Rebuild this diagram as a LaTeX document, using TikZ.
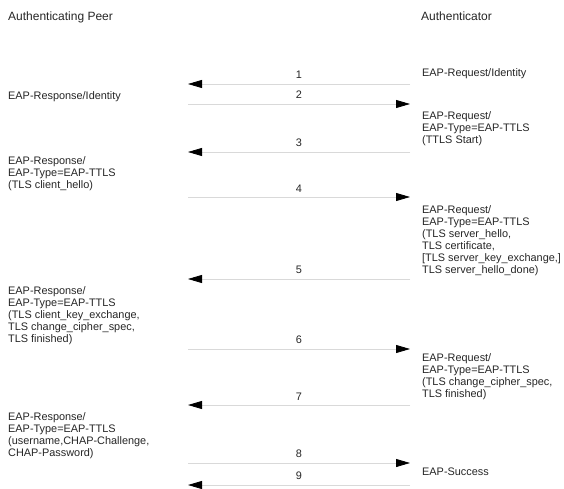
\documentclass[tikz,border=0pt]{standalone}
\usepackage{fontspec}
\setmainfont{Liberation Sans}
\usetikzlibrary{arrows.meta}
\tikzset{
  txt/.style={anchor=north west, inner sep=0pt, align=left, text=black!85,
    font=\fontsize{10.9}{12}\selectfont},
  head/.style={anchor=north west, inner sep=0pt, text=black!85,
    font=\fontsize{12}{14}\selectfont},
  msg/.style={draw=black!15, line width=0.8pt,
    -{Triangle[length=14pt,width=8pt,black]}},
  num/.style={midway, anchor=south, inner sep=0pt, yshift=4.6pt, text=black!85,
    font=\fontsize{10.9}{12}\selectfont}
}
\begin{document}
\begin{tikzpicture}[x=1pt,y=-1pt]
\useasboundingbox (0,0) rectangle (564,489);
% headers
\node[head] (peer) at (8,11.7) {Authenticating Peer};
\node[head] (auth) at (421,11.7) {Authenticator};
% right-side texts
\node[txt] (r1t) at (422,68.1) {EAP-Request/Identity};
\node[txt] (r2t) at (422,111.1) {EAP-Request/\\EAP-Type=EAP-TTLS\\(TTLS Start)};
\node[txt] (r3t) at (422,205.1) {EAP-Request/\\EAP-Type=EAP-TTLS\\(TLS server\_hello,\\TLS certificate,\\{}[TLS server\_key\_exchange,]\\TLS server\_hello\_done)};
\node[txt] (r4t) at (422,353.1) {EAP-Request/\\EAP-Type=EAP-TTLS\\(TLS change\_cipher\_spec,\\TLS finished)};
\node[txt] (r5t) at (422,468.1) {EAP-Success};
% left-side texts
\node[txt] (l1t) at (8,91.1) {EAP-Response/Identity};
\node[txt] (l2t) at (8,156.1) {EAP-Response/\\EAP-Type=EAP-TTLS\\(TLS client\_hello)};
\node[txt] (l3t) at (8,286.1) {EAP-Response/\\EAP-Type=EAP-TTLS\\(TLS client\_key\_exchange,\\TLS change\_cipher\_spec,\\TLS finished)};
\node[txt] (l4t) at (8,412.1) {EAP-Response/\\EAP-Type=EAP-TTLS\\(username,CHAP-Challenge,\\CHAP-Password)};
% arrow end points
\foreach \i/\y in {1/84,2/104,3/152,4/197,5/279,6/349,7/405,8/463,9/485}{
  \coordinate (a\i) at (188,\y);
  \coordinate (b\i) at (410,\y);
}
% messages
\draw[msg] (b1) -- node[num]{1} (a1);
\draw[msg] (a2) -- node[num]{2} (b2);
\draw[msg] (b3) -- node[num]{3} (a3);
\draw[msg] (a4) -- node[num]{4} (b4);
\draw[msg] (b5) -- node[num]{5} (a5);
\draw[msg] (a6) -- node[num]{6} (b6);
\draw[msg] (b7) -- node[num]{7} (a7);
\draw[msg] (a8) -- node[num]{8} (b8);
\draw[msg] (b9) -- node[num]{9} (a9);
\end{tikzpicture}
\end{document}
